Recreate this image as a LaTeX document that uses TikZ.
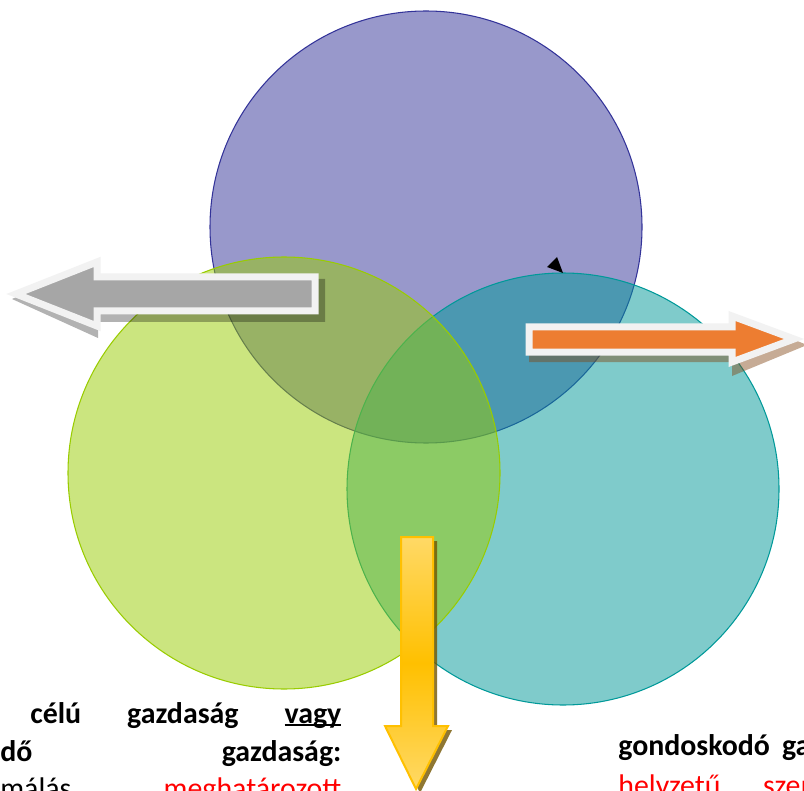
\documentclass[tikz,border=0pt]{standalone}
\usepackage{fontspec}
\setmainfont{Carlito}
\usetikzlibrary{positioning}

\definecolor{vennpurple}{HTML}{333399}
\definecolor{venngreen}{HTML}{99CC00}
\definecolor{vennteal}{HTML}{009999}
\definecolor{arrgray}{HTML}{A6A6A6}
\definecolor{arrrim}{HTML}{F2F2F2}
\definecolor{arrorange}{HTML}{ED7D31}
\definecolor{goldlight}{HTML}{FFD966}
\definecolor{golddark}{HTML}{FFC000}
\definecolor{txtred}{HTML}{FF0000}
\definecolor{orshadow}{RGB}{130,70,20}

\newcommand{\vennul}[1]{\setbox0\hbox{#1}\rlap{\rule[-1.8pt]{\wd0}{1.1pt}}#1}

\begin{document}
\begin{tikzpicture}
  [x=0.2mm,y=-0.2mm,
   venn/.style={circle,minimum size=8.64cm,inner sep=0pt,fill opacity=.5,line width=.6pt},
   blockarrow/.style={line width=1.4mm,draw=arrrim,line join=miter},
   txt/.style={inner sep=0pt,anchor=base west,font=\fontsize{17}{22}\selectfont}]
  \useasboundingbox (0,0) rectangle (804,791);
  \clip (0,0) rectangle (804,791);
  \fill[white] (0,0) rectangle (804,791);

  % the three circles
  \node[venn,fill=vennpurple,draw=vennpurple] (rule) at (426,227) {};
  \node[venn,fill=vennteal,draw=vennteal] (care) at (563,489) {};
  \node[venn,fill=venngreen,draw=venngreen] (profit) at (284,473) {};

  \fill (547,267) -- (557,257) -- (563,273) -- cycle;

  % left arrow
  \fill[black,opacity=.3,shift={(5,6)}] (7,293) -- (93,255) -- (93,273) -- (320,273)
    -- (320,316) -- (93,316) -- (93,332) -- cycle;
  \draw[blockarrow,fill=arrgray] (16,294) -- (97,262) -- (97,277) -- (315,277)
    -- (315,311) -- (97,311) -- (97,326) -- cycle;

  % right arrow
  \fill[orshadow,opacity=.45,shift={(4,6)}] (525,323) -- (728,323) -- (728,308) -- (803,339)
    -- (728,370) -- (728,356) -- (525,356) -- cycle;
  \draw[blockarrow,fill=arrorange] (529,327) -- (732,327) -- (732,316) -- (794,339)
    -- (732,362) -- (732,352) -- (529,352) -- cycle;

  % down arrow
  \fill[golddark!45!black,opacity=.8,shift={(4,4)}] (401,537) -- (433,537) -- (433,726)
    -- (448,726) -- (416,789) -- (385,726) -- (401,726) -- cycle;
  \draw[draw=golddark,line width=.4mm,top color=goldlight,bottom color=goldlight,middle color=golddark]
    (401,537) -- (433,537) -- (433,726) -- (448,726) -- (416,789) -- (385,726) -- (401,726) -- cycle;

  % texts
  \node[txt] (lefttop) at (30,723) {\bfseries\makebox[6.22cm][s]{célú gazdaság \vennul{vagy}}};
  \node[txt] (leftmid) at (0,761) {\bfseries\makebox[6.82cm][s]{dő gazdaság:}};
  \node[txt] (leftlow) at (0,798) {\makebox[6.82cm][s]{málás \textcolor{txtred}{meghatározott}}};
  \node[txt] (rightmid) at (618,755) {\bfseries\makebox[3.84cm][s]{gondoskodó ga}};
  \node[txt] (rightlow) at (618,795) {\color{txtred}\makebox[4.12cm][s]{helyzetű szem}};
\end{tikzpicture}
\end{document}
